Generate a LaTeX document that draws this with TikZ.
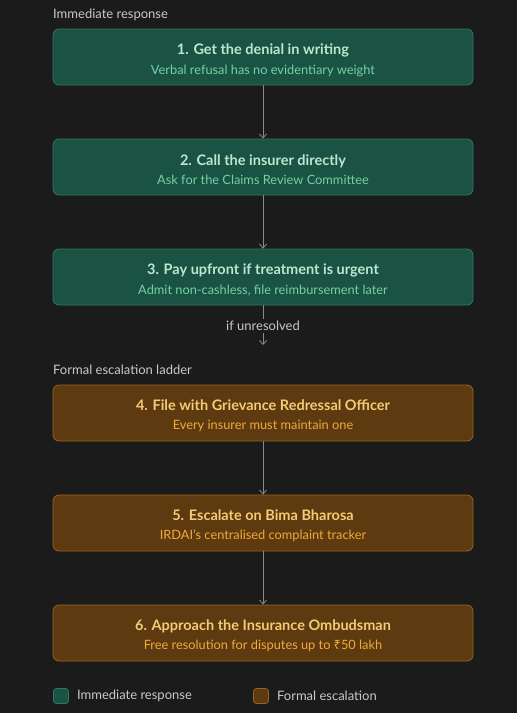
\documentclass[tikz,border=0pt]{standalone}
\usepackage{fontspec}
\setmainfont{Lato}
\newfontfamily\rupeefont{Noto Sans}
\usetikzlibrary{arrows.meta}
\definecolor{bgdark}{HTML}{1B1B1B}
\definecolor{greenfill}{HTML}{1A5243}
\definecolor{greenedge}{HTML}{2E7A5E}
\definecolor{greentitle}{HTML}{BDE8CF}
\definecolor{greensub}{HTML}{72D2A4}
\definecolor{brownfill}{HTML}{5D3A0F}
\definecolor{brownedge}{HTML}{9A6220}
\definecolor{browntitle}{HTML}{F5CB73}
\definecolor{brownsub}{HTML}{F2A93B}
\definecolor{linkgray}{HTML}{8A8A8A}
\definecolor{labelgray}{HTML}{C9C9C9}
\newcommand{\steptext}[4]{\textcolor{#1}{\fontsize{14.5}{16}\selectfont\bfseries #2}\\[7pt]\textcolor{#3}{\fontsize{12.8}{14}\selectfont #4}}
\begin{document}
\begin{tikzpicture}[x=1pt,y=-1pt,
	stepbox/.style={rounded corners=6pt, line width=0.8pt, minimum width=420pt, minimum height=56pt, inner sep=0pt},
	greenbox/.style={stepbox, draw=greenedge, fill=greenfill},
	brownbox/.style={stepbox, draw=brownedge, fill=brownfill},
	steplabel/.style={align=center, inner sep=0pt, yshift=-3pt},
	link/.style={draw=linkgray, line width=0.8pt, -{Straight Barb[length=4pt,width=7pt]}},
	heading/.style={anchor=west, text=labelgray, font=\fontsize{13}{14}\selectfont, inner sep=0pt},
	keybox/.style={rounded corners=3pt, line width=0.8pt, minimum size=15pt, inner sep=0pt}]
	% Bakgrunn
	\fill[bgdark] (0,0) rectangle (517,713);
	\useasboundingbox (0,0) rectangle (517,713);
	% Immediate response
	\node[heading] (headA) at (53,15) {Immediate response};
	\node[greenbox, label={[steplabel]center:{\steptext{greentitle}{1. Get the denial in writing}{greensub}{Verbal refusal has no evidentiary weight}}}] (s1) at (263,57) {};
	\node[greenbox, label={[steplabel]center:{\steptext{greentitle}{2. Call the insurer directly}{greensub}{Ask for the Claims Review Committee}}}] (s2) at (263,167) {};
	\node[greenbox, label={[steplabel]center:{\steptext{greentitle}{3. Pay upfront if treatment is urgent}{greensub}{Admit non-cashless, file reimbursement later}}}] (s3) at (263,277) {};
	\draw[link] (s1) -- (s2);
	\draw[link] (s2) -- (s3);
	% Overgang
	\node[text=labelgray, font=\fontsize{13}{14}\selectfont, inner sep=2pt] (unres) at (263,326) {if unresolved};
	\coordinate (unresend) at (263,345);
	\draw[draw=linkgray, line width=0.8pt] (s3) -- (unres);
	\draw[link] (unres) -- (unresend);
	% Formal escalation ladder
	\node[heading] (headB) at (53,370) {Formal escalation ladder};
	\node[brownbox, label={[steplabel]center:{\steptext{browntitle}{4. File with Grievance Redressal Officer}{brownsub}{Every insurer must maintain one}}}] (s4) at (263,413) {};
	\node[brownbox, label={[steplabel]center:{\steptext{browntitle}{5. Escalate on Bima Bharosa}{brownsub}{IRDAI's centralised complaint tracker}}}] (s5) at (263,523) {};
	\node[brownbox, label={[steplabel]center:{\steptext{browntitle}{6. Approach the Insurance Ombudsman}{brownsub}{Free resolution for disputes up to {\rupeefont ₹}50 lakh}}}] (s6) at (263,633) {};
	\draw[link] (s4) -- (s5);
	\draw[link] (s5) -- (s6);
	% Forklaring
	\node[keybox, draw=greenedge, fill=greenfill] (keyA) at (61,696) {};
	\node[heading, right=8pt] (keyAtxt) at (keyA.east) {Immediate response};
	\node[keybox, draw=brownedge, fill=brownfill] (keyB) at (261,696) {};
	\node[heading, right=8pt] (keyBtxt) at (keyB.east) {Formal escalation};
\end{tikzpicture}
\end{document}
